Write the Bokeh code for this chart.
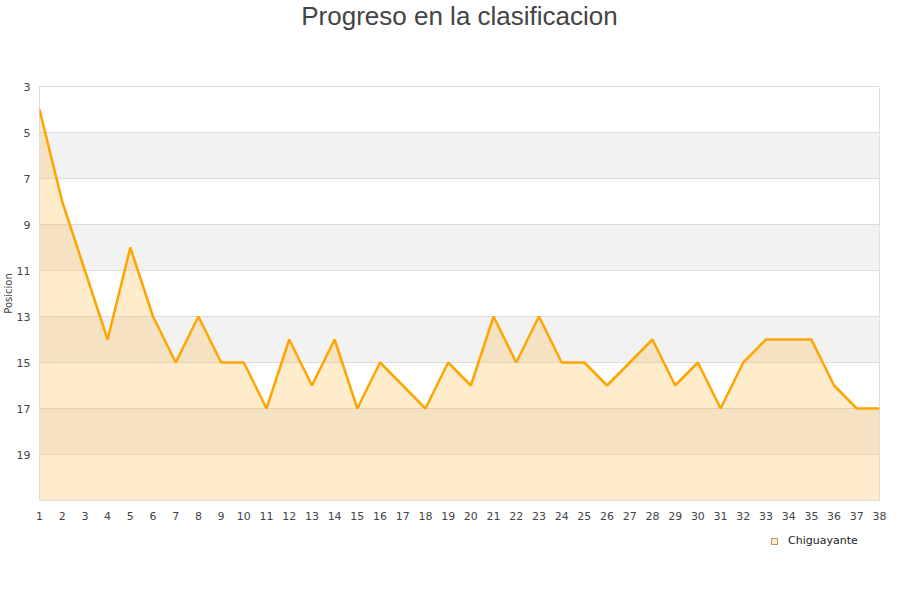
from bokeh.plotting import figure
from bokeh.models import Range1d, FixedTicker, Title, Div
from bokeh.layouts import column
from bokeh.embed import file_html
from bokeh.resources import INLINE

jornadas = list(range(1, 39))
posiciones = [4, 8, 11, 14, 10, 13, 15, 13, 15, 15, 17, 14, 16, 14, 17, 15, 16, 17, 15, 16,
              13, 15, 13, 15, 15, 16, 15, 14, 16, 15, 17, 15, 14, 14, 14, 16, 17, 17]
y_ticks = [3, 5, 7, 9, 11, 13, 15, 17, 19]
y_top = 3
y_bottom = 21
team = "Chiguayante"
title_text = "Progreso en la clasificacion"

p = figure(width=884, height=526, frame_width=840, frame_height=414,
           output_backend="svg", toolbar_location=None,
           x_range=Range1d(1, 38), y_range=Range1d(y_bottom, y_top),
           min_border_left=32, min_border_right=12, min_border_top=0, min_border_bottom=0)
p.title.visible = False

# spacer between title and plot frame (added first -> nearest to frame)
p.add_layout(Title(text=" ", text_font_size="1px", standoff=51), "above")
p.add_layout(Title(text=title_text, align="center", vertical_align="top",
                   text_font="Liberation Sans", text_font_size="26px",
                   text_font_style="normal", text_color="#444444", standoff=0), "above")

p.outline_line_color = "#dddddd"
p.background_fill_color = "white"

p.xaxis.ticker = FixedTicker(ticks=jornadas)
p.yaxis.ticker = FixedTicker(ticks=y_ticks)
for ax in (p.xaxis[0], p.yaxis[0]):
    ax.axis_line_color = None
    ax.major_tick_line_color = None
    ax.minor_tick_line_color = None
    ax.major_label_text_font = "DejaVu Sans"
    ax.major_label_text_font_size = "11px"
    ax.major_label_text_color = "#444444"
p.xaxis.major_label_standoff = 5
p.yaxis.major_label_standoff = 3

p.add_layout(Title(text="Posicion", align="center", text_font="DejaVu Sans",
                   text_font_size="10px", text_font_style="normal", text_color="#444444",
                   standoff=0, offset=0), "left")

p.xgrid.grid_line_color = None
p.ygrid.grid_line_color = "#dddddd"
p.ygrid.band_fill_color = "#f2f2f2"
p.ygrid.band_fill_alpha = 1.0

area = p.varea(x=jornadas, y1=posiciones, y2=y_bottom, fill_color="#ffb333", fill_alpha=0.25)
p.line(x=jornadas, y=posiciones, line_color="#ffa500", line_width=2.5)

legend_html = (
    '<span style="display:inline-block;width:7px;height:7px;background:#ffecc8;'
    'border:1px solid #b89c70;margin-right:10px;vertical-align:middle;"></span>'
    '<span style="vertical-align:middle;">' + team + '</span>'
)
legend_div = Div(text=legend_html, width=884, height=30,
                 styles={"padding-left": "766px", "padding-top": "6px",
                         "font-family": "DejaVu Sans", "font-size": "11px",
                         "color": "#222222", "box-sizing": "border-box"})

open("out.html", "w").write(file_html(column(p, legend_div), INLINE))
